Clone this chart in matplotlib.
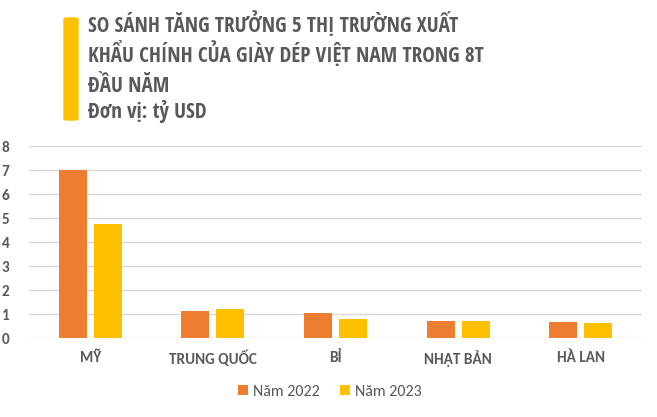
import matplotlib.pyplot as plt
import numpy as np
from matplotlib.patches import FancyBboxPatch

markets = ["MỸ", "TRUNG QUỐC", "BỈ", "NHẬT BẢN", "HÀ LAN"]
values_2022 = [7.0, 1.13, 1.04, 0.71, 0.67]
values_2023 = [4.75, 1.21, 0.79, 0.71, 0.63]
series_names = ["Năm 2022", "Năm 2023"]
yticks = [0, 1, 2, 3, 4, 5, 6, 7, 8]

title_lines = ["SO SÁNH TĂNG TRƯỞNG 5 THỊ TRƯỜNG XUẤT",
               "KHẨU CHÍNH CỦA GIÀY DÉP VIỆT NAM TRONG 8T",
               "ĐẦU NĂM",
               "Đơn vị: tỷ USD"]

orange = "#ED7D31"
yellow = "#FFC000"
text_gray = "#595959"

plt.rcParams['font.family'] = ['Carlito', 'DejaVu Sans']

W, H = 657, 417
fig = plt.figure(figsize=(W / 100, H / 100), dpi=100)
ax = fig.add_axes([29 / W, (H - 338) / H, (642 - 29) / W, (338 - 146) / H])

x = np.arange(len(markets))
bw = 0.228
off = 0.143
ax.bar(x - off, values_2022, bw, color=orange, label=series_names[0], zorder=3)
ax.bar(x + off, values_2023, bw, color=yellow, label=series_names[1], zorder=3)

ax.set_xlim(-0.5, len(markets) - 0.5)
ax.set_ylim(0, 8)
ax.set_yticks(yticks)
ax.set_yticklabels([str(t) for t in yticks], fontsize=11, fontweight='bold', color=text_gray)
ax.set_xticks(x)
ax.set_xticklabels(markets, fontsize=11, fontweight='bold', color=text_gray)
ax.tick_params(axis='both', length=0)
ax.tick_params(axis='y', pad=14)
ax.tick_params(axis='x', pad=9)
ax.grid(axis='y', color='#D9D9D9', linewidth=1, zorder=0)
for s in ax.spines.values():
    s.set_visible(False)

ax.legend(loc='center', bbox_to_anchor=(330 / W, (H - 392) / H), bbox_transform=fig.transFigure,
          ncol=2, frameon=False, handlelength=0.6, handleheight=0.6, handletextpad=0.3,
          columnspacing=1.3, prop={'size': 11.5}, labelcolor=text_gray)

# title block with yellow bar
fig.patches.append(FancyBboxPatch((64 / W, (H - 120) / H), 14 / W, 102 / H,
                                  boxstyle="round,pad=0,rounding_size=0.004",
                                  transform=fig.transFigure, color=yellow))
baselines = [32, 62, 92, 118]
for i, line in enumerate(title_lines):
    fig.text(88 / W, (H - baselines[i]) / H, line, fontsize=15.2, fontweight='bold',
             family=['Open Sans Condensed', 'DejaVu Sans'],
             color=text_gray, va='baseline', ha='left')

fig.savefig("out.png", dpi=100)
